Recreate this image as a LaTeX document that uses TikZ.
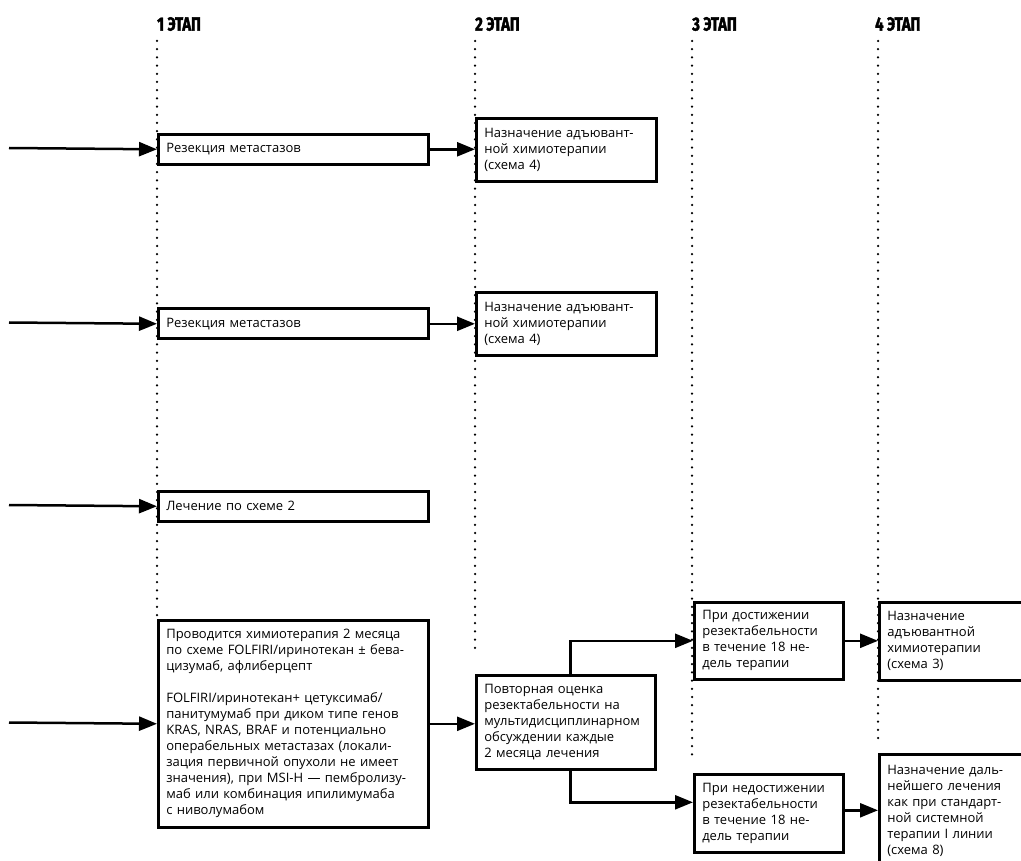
\documentclass[tikz,border=0pt]{standalone}
\usepackage{fontspec}
\setmainfont{Open Sans}
\newfontfamily\headfont[FakeStretch=0.78,FakeBold=2]{Fira Sans}
\usetikzlibrary{arrows.meta}

\begin{document}
\begin{tikzpicture}[x=1pt,y=-1pt]

		% INPUTS:
		\newcommand{\stageA}{157};		% x of stage 1 line
		\newcommand{\stageB}{475};		% x of stage 2 line
		\newcommand{\stageC}{692};		% x of stage 3 line
		\newcommand{\stageD}{878};		% x of stage 4 line
		\newcommand{\stagetop}{41};		% top of the dotted lines

		% styles
		\tikzstyle{stagehead}=[anchor=west,inner sep=0pt,font=\headfont\bfseries\fontsize{19}{19}\selectfont];
		\tikzstyle{stageline}=[line width=2.5pt,line cap=round,dash pattern=on 0pt off 8.2pt];
		\tikzstyle{box}=[draw,fill=white,line width=2.6pt,anchor=north west,inner sep=8pt,align=left,font=\fontsize{13}{16}\selectfont];
		\tikzstyle{arrow}=[line width=2.5pt,-{Triangle[length=18pt,width=14pt]}];

		% page size
		\useasboundingbox (0,0) rectangle (1021,861);

		% stage names and dotted lines
		\node[stagehead] (h1) at (\stageA,24) {1 ЭТАП};
		\node[stagehead] (h2) at (\stageB,24) {2 ЭТАП};
		\node[stagehead] (h3) at (\stageC,24) {3 ЭТАП};
		\node[stagehead] (h4) at (\stageD-3,24) {4 ЭТАП};
		\draw[stageline] (\stageA,\stagetop) -- (\stageA,619);
		\draw[stageline] (\stageB,\stagetop) -- (\stageB,651);
		\draw[stageline] (\stageC,\stagetop) -- (\stageC,760);
		\draw[stageline] (\stageD,\stagetop) -- (\stageD,740);

		% free ends of the incoming arrows
		\coordinate (in1) at (9,148);
		\coordinate (in2) at (9,322.5);
		\coordinate (in3) at (9,505);
		\coordinate (in4) at (9,722.5);

		% first row
		\node[box,minimum width=270,minimum height=30,text width=254pt] (res1) at (\stageA,133) {Резекция метастазов};
		\node[box,minimum width=180,minimum height=63,text width=164pt] (adj1) at (\stageB,117) {Назначение адъювант-\\ной химиотерапии\\(схема 4)};

		% second row
		\node[box,minimum width=270,minimum height=30,text width=254pt] (res2) at (\stageA,307.5) {Резекция метастазов};
		\node[box,minimum width=180,minimum height=63,text width=164pt] (adj2) at (\stageB,291) {Назначение адъювант-\\ной химиотерапии\\(схема 4)};

		% third row
		\node[box,minimum width=270,minimum height=30,text width=254pt] (scheme2) at (\stageA,490) {Лечение по схеме 2};

		% fourth row
		\node[box,minimum width=270,minimum height=207,text width=254pt] (chemo) at (\stageA,619) {Проводится химиотерапия 2 месяца\\по схеме FOLFIRI/иринотекан ± бева-\\цизумаб, афлиберцепт\\[16pt]FOLFIRI/иринотекан+ цетуксимаб/\\панитумумаб при диком типе генов\\KRAS, NRAS, BRAF и потенциально\\операбельных метастазах (локали-\\зация первичной опухоли не имеет\\значения), при MSI-H — пембролизу-\\маб или комбинация ипилимумаба\\с ниволумабом};
		\node[box,minimum width=179,minimum height=94,text width=163pt] (review) at (\stageB,674) {Повторная оценка\\резектабельности на\\мультидисциплинарном\\обсуждении каждые\\2 месяца лечения};
		\node[box,minimum width=149,minimum height=77,text width=133pt] (reach) at (\stageC+1,601) {При достижении\\резектабельности\\в течение 18 не-\\дель терапии};
		\node[box,minimum width=149,minimum height=78,text width=133pt] (noreach) at (\stageC+1,773) {При недостижении\\резектабельности\\в течение 18 не-\\дель терапии};
		\node[box,minimum width=170,minimum height=78,text width=154pt] (adj3) at (\stageD,601) {Назначение\\адъювантной\\химиотерапии\\(схема 3)};
		\node[box,minimum width=170,minimum height=114,text width=154pt] (further) at (\stageD,753) {Назначение даль-\\нейшего лечения\\как при стандарт-\\ной системной\\терапии I линии\\(схема 8)};

		% arrows
		\draw[arrow] (in1) -- (res1.west);
		\draw[arrow] (res1.east) -- (res1.east -| adj1.west);
		\draw[arrow] (in2) -- (res2.west);
		\draw[arrow] (res2.east) -- (res2.east -| adj2.west);
		\draw[arrow] (in3) -- (scheme2.west);
		\draw[arrow] (in4) -- (chemo.west);
		\draw[arrow] (chemo.east) -- (chemo.east -| review.west);
		\draw[arrow] ([xshift=4.5pt]review.north) |- (reach.west);
		\draw[arrow] ([xshift=4.5pt]review.south) |- ([yshift=11pt]noreach.west);
		\draw[arrow] (reach.east) -- (reach.east -| adj3.west);
		\draw[arrow] ([yshift=3pt]noreach.east) -- ([yshift=3pt]noreach.east -| further.west);

\end{tikzpicture}
\end{document}
